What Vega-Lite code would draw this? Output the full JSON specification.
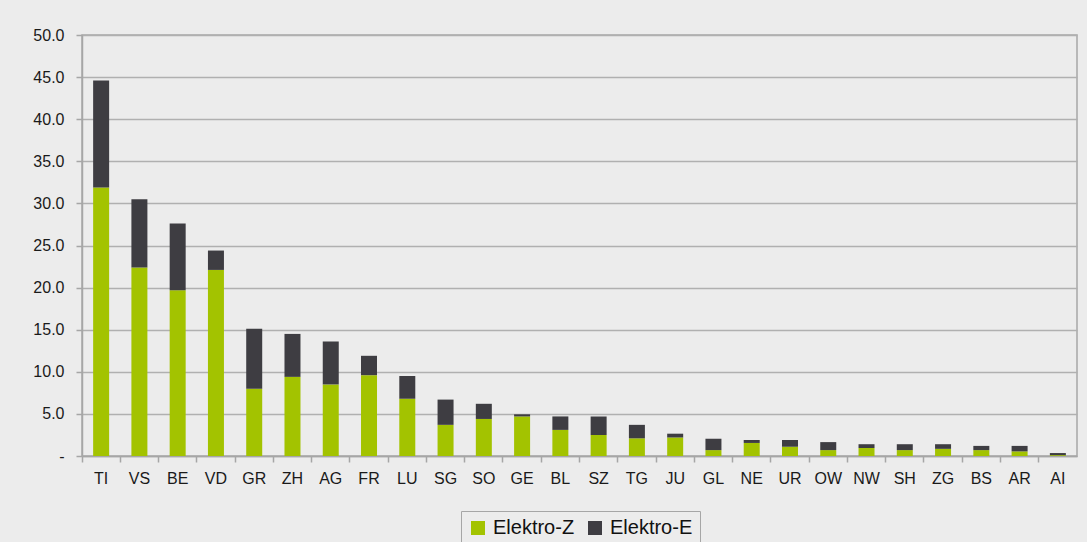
{
  "$schema": "https://vega.github.io/schema/vega-lite/v6.json",
  "width": 995,
  "height": 421,
  "autosize": {"type": "none"},
  "padding": {"left": 82, "top": 35, "right": 10, "bottom": 86},
  "background": "#ececec",
  "config": {
    "font": "Liberation Sans",
    "view": {"stroke": "#a6a6a6", "strokeWidth": 1.5, "fill": "#ececec"},
    "axis": {"labelFont": "Liberation Sans", "labelColor": "#1a1a1a", "domainColor": "#a6a6a6", "tickColor": "#a6a6a6", "gridColor": "#b0b0b0", "domainWidth": 1.5, "tickWidth": 1.5, "gridWidth": 1.5}
  },
  "data": {
    "values": [
      {"canton": "TI", "type": "Elektro-Z", "value": 31.9}, {"canton": "TI", "type": "Elektro-E", "value": 12.7},
      {"canton": "VS", "type": "Elektro-Z", "value": 22.4}, {"canton": "VS", "type": "Elektro-E", "value": 8.1},
      {"canton": "BE", "type": "Elektro-Z", "value": 19.7}, {"canton": "BE", "type": "Elektro-E", "value": 7.9},
      {"canton": "VD", "type": "Elektro-Z", "value": 22.1}, {"canton": "VD", "type": "Elektro-E", "value": 2.3},
      {"canton": "GR", "type": "Elektro-Z", "value": 8.0}, {"canton": "GR", "type": "Elektro-E", "value": 7.1},
      {"canton": "ZH", "type": "Elektro-Z", "value": 9.4}, {"canton": "ZH", "type": "Elektro-E", "value": 5.1},
      {"canton": "AG", "type": "Elektro-Z", "value": 8.5}, {"canton": "AG", "type": "Elektro-E", "value": 5.1},
      {"canton": "FR", "type": "Elektro-Z", "value": 9.6}, {"canton": "FR", "type": "Elektro-E", "value": 2.3},
      {"canton": "LU", "type": "Elektro-Z", "value": 6.8}, {"canton": "LU", "type": "Elektro-E", "value": 2.7},
      {"canton": "SG", "type": "Elektro-Z", "value": 3.7}, {"canton": "SG", "type": "Elektro-E", "value": 3.0},
      {"canton": "SO", "type": "Elektro-Z", "value": 4.4}, {"canton": "SO", "type": "Elektro-E", "value": 1.8},
      {"canton": "GE", "type": "Elektro-Z", "value": 4.7}, {"canton": "GE", "type": "Elektro-E", "value": 0.25},
      {"canton": "BL", "type": "Elektro-Z", "value": 3.1}, {"canton": "BL", "type": "Elektro-E", "value": 1.6},
      {"canton": "SZ", "type": "Elektro-Z", "value": 2.5}, {"canton": "SZ", "type": "Elektro-E", "value": 2.2},
      {"canton": "TG", "type": "Elektro-Z", "value": 2.1}, {"canton": "TG", "type": "Elektro-E", "value": 1.6},
      {"canton": "JU", "type": "Elektro-Z", "value": 2.2}, {"canton": "JU", "type": "Elektro-E", "value": 0.45},
      {"canton": "GL", "type": "Elektro-Z", "value": 0.7}, {"canton": "GL", "type": "Elektro-E", "value": 1.35},
      {"canton": "NE", "type": "Elektro-Z", "value": 1.55}, {"canton": "NE", "type": "Elektro-E", "value": 0.35},
      {"canton": "UR", "type": "Elektro-Z", "value": 1.1}, {"canton": "UR", "type": "Elektro-E", "value": 0.8},
      {"canton": "OW", "type": "Elektro-Z", "value": 0.7}, {"canton": "OW", "type": "Elektro-E", "value": 0.95},
      {"canton": "NW", "type": "Elektro-Z", "value": 0.95}, {"canton": "NW", "type": "Elektro-E", "value": 0.45},
      {"canton": "SH", "type": "Elektro-Z", "value": 0.7}, {"canton": "SH", "type": "Elektro-E", "value": 0.7},
      {"canton": "ZG", "type": "Elektro-Z", "value": 0.85}, {"canton": "ZG", "type": "Elektro-E", "value": 0.55},
      {"canton": "BS", "type": "Elektro-Z", "value": 0.7}, {"canton": "BS", "type": "Elektro-E", "value": 0.5},
      {"canton": "AR", "type": "Elektro-Z", "value": 0.55}, {"canton": "AR", "type": "Elektro-E", "value": 0.65},
      {"canton": "AI", "type": "Elektro-Z", "value": 0.1}, {"canton": "AI", "type": "Elektro-E", "value": 0.25}
    ]
  },
  "layer": [
    {
      "mark": {"type": "bar", "width": 16},
      "encoding": {
        "x": {
          "field": "canton", "type": "nominal",
          "sort": ["TI","VS","BE","VD","GR","ZH","AG","FR","LU","SG","SO","GE","BL","SZ","TG","JU","GL","NE","UR","OW","NW","SH","ZG","BS","AR","AI"],
          "scale": {"paddingInner": 0, "paddingOuter": 0},
          "axis": {"title": null, "orient": "bottom", "labelAngle": 0, "labelFontSize": 16, "labelPadding": 14, "ticks": false, "domain": true}
        },
        "y": {
          "field": "value", "type": "quantitative", "aggregate": "sum", "stack": "zero",
          "scale": {"domain": [0, 50], "nice": false},
          "axis": {"title": null, "values": [0,5,10,15,20,25,30,35,40,45,50], "labelExpr": "datum.value == 0 ? '-' : format(datum.value, '.1f')", "labelFontSize": 16, "tickSize": 6, "labelPadding": 12, "grid": true}
        },
        "color": {
          "field": "type", "type": "nominal",
          "scale": {"domain": ["Elektro-Z", "Elektro-E"], "range": ["#a3c300", "#3e3d42"]},
          "legend": {
            "title": null, "orient": "none", "direction": "horizontal", "legendX": 379, "legendY": 476,
            "symbolType": "square", "symbolSize": 196, "symbolStrokeWidth": 0, "labelFontSize": 20, "labelFont": "Liberation Sans", "labelColor": "#111",
            "labelOffset": 5, "columnPadding": 10, "strokeColor": "#a6a6a6", "padding": 7, "fillColor": "#ececec", "labelLimit": 200
          }
        },
        "order": {"field": "type", "sort": "descending"}
      }
    },
    {
      "mark": {"type": "tick", "opacity": 0},
      "encoding": {
        "x": {
          "field": "canton", "type": "nominal",
          "sort": ["TI","VS","BE","VD","GR","ZH","AG","FR","LU","SG","SO","GE","BL","SZ","TG","JU","GL","NE","UR","OW","NW","SH","ZG","BS","AR","AI"],
          "axis": {"title": null, "orient": "bottom", "labels": false, "ticks": true, "tickSize": 6, "tickColor": "#a6a6a6", "bandPosition": 0, "domain": false, "grid": false}
        }
      }
    }
  ],
  "resolve": {"axis": {"x": "independent"}}
}
